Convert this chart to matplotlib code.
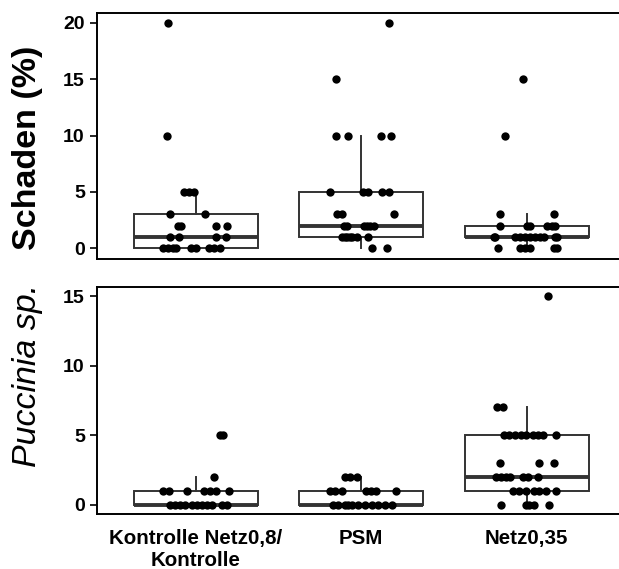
import numpy as np
import matplotlib
matplotlib.use("Agg")
import matplotlib.pyplot as plt

plt.rcParams['font.family'] = ['Liberation Sans', 'DejaVu Sans']

groups = ["Kontrolle Netz0,8/\nKontrolle", "PSM", "Netz0,35"]

# Schaden (%) - oberes Panel
top_vals_1 = [20, 10, 5, 5, 5, 3, 3, 2, 2, 2, 2, 1, 1, 1, 1, 0, 0, 0, 0, 0, 0, 0, 0, 0]
top_jit_1 = [-0.167, -0.175, -0.07, -0.04, -0.01, -0.154, 0.056, -0.11, -0.09, 0.12, 0.19,
             -0.154, -0.1, 0.12, 0.18, -0.2, -0.17, -0.14, -0.12, -0.03, 0.0, 0.08, 0.11, 0.144]

top_vals_2 = [20, 15, 10, 10, 10, 10, 5, 5, 5, 5, 5, 3, 3, 3, 2, 2, 2, 2, 2, 2,
              1, 1, 1, 1, 1, 1, 1, 0, 0]
top_jit_2 = [0.171, -0.154, -0.15, -0.08, 0.117, 0.179, -0.188, 0.012, 0.04, 0.126, 0.166,
             -0.144, -0.114, 0.196, -0.104, -0.084, 0.016, 0.036, 0.056, 0.076,
             -0.114, -0.099, -0.084, -0.069, -0.054, -0.024, 0.04, 0.066, 0.156]

top_vals_3 = [15, 10, 3, 3, 2, 2, 2, 2, 2, 2, 1, 1, 1, 1, 1, 1, 1, 1, 1, 1, 1,
              0, 0, 0, 0, 0, 0]
top_jit_3 = [-0.023, -0.132, -0.158, 0.164, -0.158, 0.0, 0.02, 0.124, 0.154, 0.174,
             -0.198, -0.188, -0.067, -0.037, -0.007, 0.023, 0.053, 0.083, 0.104, 0.174, 0.184,
             -0.174, -0.037, -0.007, 0.023, 0.164, 0.184]

# Puccinia sp. - unteres Panel
bot_vals_1 = [5, 5, 2, 1, 1, 1, 1, 1, 1, 1, 0, 0, 0, 0, 0, 0, 0, 0, 0, 0, 0]
bot_jit_1 = [0.147, 0.167, 0.11, -0.2, -0.165, -0.053, 0.049, 0.086, 0.12, 0.2,
             -0.155, -0.124, -0.094, -0.063, -0.022, 0.008, 0.039, 0.069, 0.1, 0.161, 0.191]

bot_vals_2 = [2, 2, 2, 1, 1, 1, 1, 1, 1, 1, 0, 0, 0, 0, 0, 0, 0, 0, 0, 0, 0]
bot_jit_2 = [-0.097, -0.067, -0.027, -0.188, -0.158, -0.117, 0.027, 0.057, 0.087, 0.208,
             -0.168, -0.138, -0.098, -0.057, -0.017, 0.023, 0.063, 0.104, 0.144, 0.184, -0.078]

bot_vals_3 = [15, 7, 7, 5, 5, 5, 5, 5, 5, 5, 5, 5, 3, 3, 3, 2, 2, 2, 2, 2, 2, 2,
              1, 1, 1, 1, 1, 1, 1, 0, 0, 0, 0, 0]
bot_jit_3 = [0.127, -0.178, -0.144, -0.134, -0.104, -0.073, -0.033, -0.003, 0.037, 0.067, 0.098, 0.178,
             -0.158, 0.077, 0.168, -0.184, -0.154, -0.124, -0.103, -0.023, 0.007, 0.067,
             -0.084, -0.043, -0.003, 0.047, 0.077, 0.118, 0.178,
             -0.154, -0.003, 0.017, 0.047, 0.138]

top_vals = [top_vals_1, top_vals_2, top_vals_3]
top_jit = [top_jit_1, top_jit_2, top_jit_3]
bot_vals = [bot_vals_1, bot_vals_2, bot_vals_3]
bot_jit = [bot_jit_1, bot_jit_2, bot_jit_3]

top_ticks = [0, 5, 10, 15, 20]
bot_ticks = [0, 5, 10, 15]

box_col = '#333333'

fig = plt.figure(figsize=(6.19, 5.69), dpi=100)
ax1 = fig.add_axes([0.156, 0.5448, 0.855, 0.4329])
ax2 = fig.add_axes([0.156, 0.0967, 0.855, 0.3995])


def draw_panel(ax, vals, jit, yticks, ylim):
    pos = np.arange(1, len(vals) + 1)
    ax.boxplot(vals, positions=pos, widths=0.75, whis=1.5, showfliers=False,
               patch_artist=True,
               boxprops=dict(facecolor='white', edgecolor=box_col, linewidth=1.4),
               medianprops=dict(color=box_col, linewidth=2.8),
               whiskerprops=dict(color=box_col, linewidth=1.4),
               capprops=dict(linewidth=0), zorder=1)
    for p, v, j in zip(pos, vals, jit):
        ax.scatter(p + np.array(j), v, s=36, c='black', linewidths=0, zorder=3)
    ax.set_xlim(0.4, 3.6)
    ax.set_ylim(*ylim)
    ax.set_yticks(yticks)
    ax.set_yticklabels([str(t) for t in yticks], fontsize=14, fontweight='bold')
    ax.tick_params(axis='y', length=5, width=1.2, pad=3.5, colors='black')
    ax.tick_params(axis='x', length=0)
    for sp in ax.spines.values():
        sp.set_linewidth(1.4)
        sp.set_color('black')


draw_panel(ax1, top_vals, top_jit, top_ticks, (-0.95, 20.9))
ax1.set_xticks([1, 2, 3])
ax1.set_xticklabels([])

draw_panel(ax2, bot_vals, bot_jit, bot_ticks, (-0.68, 15.7))
ax2.set_xticks([1, 2, 3])
ax2.set_xticklabels(groups, fontsize=14.8, fontweight='bold')
ax2.tick_params(axis='x', pad=11)

fig.text(0.045, 0.741, "Schaden (%)", rotation=90, ha='center', va='center',
         fontsize=24.5, fontweight='bold')
fig.text(0.045, 0.341, "Puccinia sp.", rotation=90, ha='center', va='center',
         fontsize=24.5, fontstyle='italic')

fig.savefig('out.png', dpi=100)
